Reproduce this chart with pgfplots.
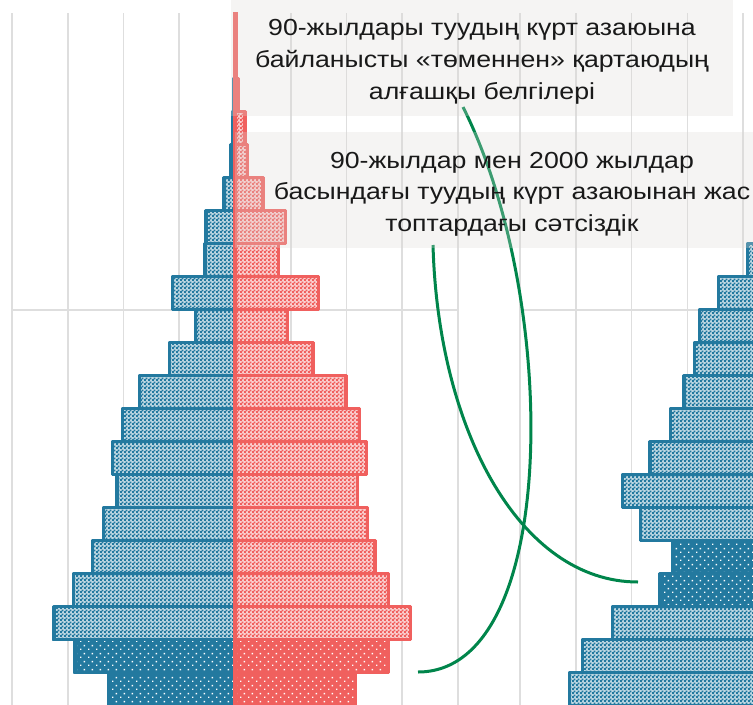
\documentclass[border=0pt]{standalone}
\usepackage{fontspec}
\setmainfont{Liberation Sans}
\usepackage{graphicx}
\usepackage{pgfplots}
\pgfplotsset{compat=1.18}
\usetikzlibrary{patterns.meta}
\definecolor{mblue}{RGB}{35,121,159}
\definecolor{fred}{RGB}{240,96,94}
\definecolor{gridc}{RGB}{222,222,222}
\definecolor{boxc}{RGB}{219,217,212}
\definecolor{note}{RGB}{0,133,75}
\definecolor{txt}{RGB}{25,25,25}

\tikzdeclarepattern{name=checker, type=uncolored,
  bottom left={(0,0)}, top right={(4bp,4bp)}, tile size={(4bp,4bp)},
  code={\fill (0,0) rectangle (2.3bp,2.3bp); \fill (2bp,2bp) rectangle (4.3bp,4.3bp);}}
\tikzdeclarepattern{name=holes, type=uncolored,
  bottom left={(0,0)}, top right={(8bp,8bp)}, tile size={(8bp,8bp)},
  code={\fill (0,0) rectangle (1.6bp,1.6bp); \fill (4bp,4bp) rectangle (5.6bp,5.6bp);}}

\pgfplotsset{
  bars/.style={line width=3.4bp, line join=round, bar shift=0pt},
  hatchM/.style={bars, preaction={fill=mblue!30!white}, pattern=checker, pattern color=mblue, draw=mblue},
  solidM/.style={bars, preaction={fill=mblue}, pattern=holes, pattern color=white, draw=mblue},
  hatchF/.style={bars, preaction={fill=fred!30!white}, pattern=checker, pattern color=fred, draw=fred},
  solidF/.style={bars, preaction={fill=fred}, pattern=holes, pattern color=white, draw=fred},
  pyr/.style={scale only axis, height=693bp, anchor=south west,
    ymin=-0.5, ymax=20.5, xbar, bar width=1, bar shift=0pt,
    axis line style={draw=none}, major tick length=0pt,
    xticklabels={}, yticklabels={}, ytick={11.5},
    xmajorgrids, ymajorgrids, grid style={gridc, line width=1.6bp}},
}
\newcommand{\wide}[1]{\scalebox{1.15}[1]{#1}}

\begin{document}
\begin{tikzpicture}
\useasboundingbox (0,0) rectangle (753bp,-705bp);
\clip (0,0) rectangle (753bp,-705bp);

% left pyramid (age groups 0-4 ... 100+ as 0..20)
\begin{axis}[pyr, at={(12bp,-705.7bp)}, width=446bp, xmin=-4, xmax=4, xtick={-4,...,4}]
\addplot[hatchM] coordinates {
  (-3.25,2) (-2.90,3) (-2.56,4) (-2.36,5) (-2.12,6) (-2.20,7) (-2.02,8)
  (-1.71,9) (-1.18,10) (-0.71,11) (-1.12,12) (-0.54,13) (-0.52,14)
  (-0.20,15) (-0.075,16) (-0.045,17) (-0.03,18) (0,19) (0,20)};
\addplot[solidM] coordinates {(-2.27,0) (-2.87,1)};
\addplot[hatchF] coordinates {
  (3.15,2) (2.75,3) (2.51,4) (2.38,5) (2.20,6) (2.36,7) (2.23,8)
  (1.99,9) (1.40,10) (0.94,11) (1.50,12) (0.78,13) (0.91,14)
  (0.50,15) (0.22,16) (0.18,17) (0.06,18) (0.02,19) (0.02,20)};
\addplot[solidF] coordinates {(2.16,0) (2.75,1)};
\end{axis}

% right pyramid (only its left half is in view)
\begin{axis}[pyr, at={(520bp,-705.7bp)}, width=558bp, xmin=-5, xmax=5, xtick={-5,...,5}]
\addplot[hatchM] coordinates {
  (-4.11,0) (-3.88,1) (-3.34,2) (-2.84,5) (-3.16,6) (-2.67,7) (-2.30,8)
  (-2.06,9) (-1.87,10) (-1.78,11) (-1.44,12) (-0.92,13)};
\addplot[solidM] coordinates {(-2.49,3) (-2.27,4)};
\end{axis}

% annotation curves
\draw[note, line width=3bp] (463bp,-107bp) .. controls (560bp,-300bp) and (560bp,-672bp) .. (418bp,-672bp);
\draw[note, line width=3bp] (433bp,-245bp) .. controls (438bp,-430bp) and (520bp,-582bp) .. (638bp,-582bp);

% annotation boxes
\fill[boxc, opacity=0.28] (231bp,0bp) rectangle (733bp,-116bp);
\fill[boxc, opacity=0.28] (235bp,-132bp) rectangle (770bp,-248bp);

\begin{scope}[every node/.style={anchor=base, inner sep=0pt, text=txt, font=\fontsize{23.3}{28}\selectfont}]
\node at (482bp,-35bp) {\wide{90-жылдары туудың күрт азаюына}};
\node at (482bp,-67bp) {\wide{байланысты «төменнен» қартаюдың}};
\node at (482bp,-99bp) {\wide{алғашқы белгілері}};
\node at (512bp,-168bp) {\wide{90-жылдар мен 2000 жылдар}};
\node at (512bp,-199.5bp) {\wide{басындағы туудың күрт азаюынан жас}};
\node at (512bp,-231bp) {\wide{топтардағы сәтсіздік}};
\end{scope}
\end{tikzpicture}
\end{document}
